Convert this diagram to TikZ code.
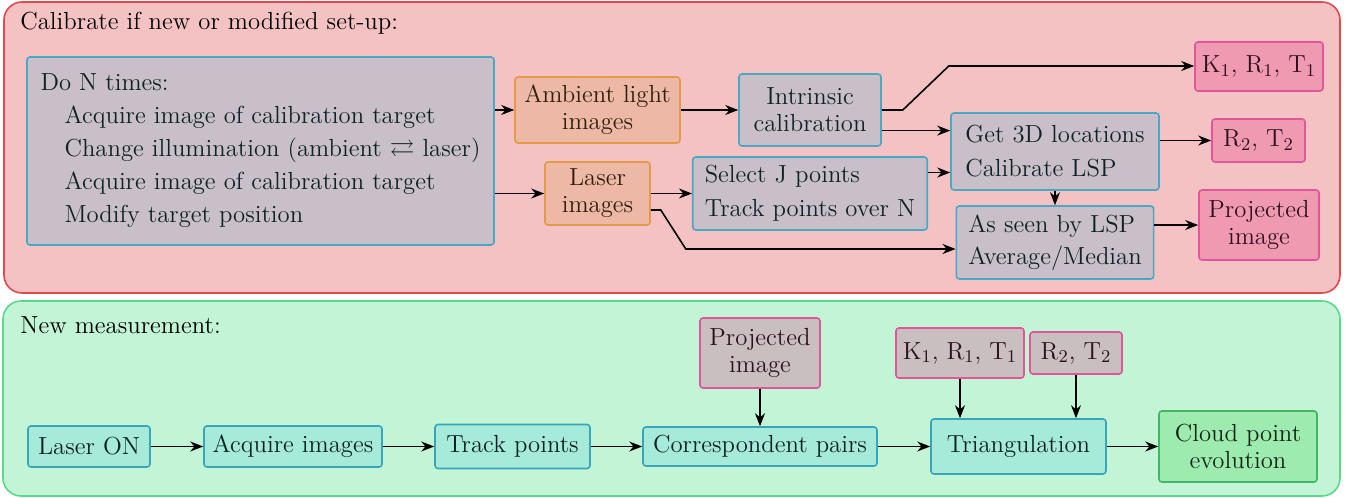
\documentclass[tikz,border=0pt]{standalone}
\usepackage{amsmath}
\usepackage{amssymb}
\usetikzlibrary{calc}
\usetikzlibrary{arrows.meta}

\definecolor{redfill}{HTML}{F4C2C2}
\definecolor{redline}{HTML}{E04A4E}
\definecolor{greenfill}{HTML}{C2F4D6}
\definecolor{greenline}{HTML}{5CD88A}
\definecolor{greyfill}{HTML}{C9BFC8}
\definecolor{greyfillB}{HTML}{C9BEC0}
\definecolor{cyanline}{HTML}{4AA8C4}
\definecolor{orangefill}{HTML}{EEB8A6}
\definecolor{orangeline}{HTML}{E49A48}
\definecolor{pinkfill}{HTML}{F09AB2}
\definecolor{pinkline}{HTML}{E2559A}
\definecolor{tealfill}{HTML}{A6EAD9}
\definecolor{tealline}{HTML}{3AA5BA}
\definecolor{cloudfill}{HTML}{9EEBB0}
\definecolor{cloudline}{HTML}{44B565}

\begin{document}
\begin{tikzpicture}[>={Stealth[length=6.5pt,width=5pt]},x=0.5pt,y=-0.5pt,font=\fontsize{12.35}{13.5}\selectfont,
    box/.style={draw,line width=0.8pt,rounded corners=1.5pt,inner ysep=0pt,inner xsep=2pt,align=center},
    calbox/.style={box,fill=greyfill,draw=cyanline,text=cyanline!20!black},
    imgbox/.style={box,fill=orangefill,draw=orangeline,text=orangeline!20!black},
    resbox/.style={box,fill=pinkfill,draw=pinkline,text=pinkline!20!black},
    inbox/.style={box,fill=greyfillB,draw=pinkline,text=pinkline!20!black},
    measbox/.style={box,fill=tealfill,draw=tealline,text=tealline!20!black},
    endbox/.style={box,fill=cloudfill,draw=cloudline,text=cloudline!20!black},
    flow/.style={->,line width=0.8pt}]
    \useasboundingbox (0,0) rectangle (1357,498);
    % the two stages
    \draw[fill=redfill,draw=redline,line width=0.8pt,rounded corners=9pt] (4,2) rectangle (1340,293);
    \draw[fill=greenfill,draw=greenline,line width=0.8pt,rounded corners=9pt] (3,301) rectangle (1340,496);
    \node[anchor=west,inner sep=0pt] (caltitle) at (20,23) {Calibrate if new or modified set-up:};
    \node[anchor=west,inner sep=0pt] (meastitle) at (20,325) {New measurement:};
    % calibration
    \node[calbox,align=left,inner xsep=6.5pt,minimum width=233.5pt,minimum height=94pt] (doN) at (260.5,151)
        {Do N times:\\[3pt]
         \hspace*{12pt}Acquire image of calibration target\\[3pt]
         \hspace*{12pt}Change illumination (ambient $\rightleftarrows$ laser)\\[3pt]
         \hspace*{12pt}Acquire image of calibration target\\[3pt]
         \hspace*{12pt}Modify target position};
    \node[imgbox,minimum width=82.5pt,minimum height=33pt] (ambient) at (597.5,110) {Ambient light\\images};
    \node[imgbox,minimum width=52.5pt,minimum height=31.5pt] (laser) at (597.5,193.5) {Laser\\images};
    \node[calbox,minimum width=71pt,minimum height=36pt] (intrinsic) at (810,110) {Intrinsic\\calibration};
    \node[calbox,align=left,inner xsep=6pt,minimum width=117pt,minimum height=36.5pt] (select) at (810,193.5)
        {Select J points\\[3.5pt]Track points over N};
    \node[calbox,align=left,inner xsep=7pt,minimum width=104pt,minimum height=38.5pt] (locate) at (1055,151.5)
        {Get 3D locations\\[3.5pt]Calibrate LSP};
    \node[calbox,align=left,inner xsep=6pt,minimum width=98pt,minimum height=36.5pt] (seen) at (1055,242.5)
        {As seen by LSP\\[2.5pt]Average/Median};
    \node[resbox,minimum width=64pt,minimum height=24.5pt] (krtA) at (1259,66.5) {K$_1$, R$_1$, T$_1$};
    \node[resbox,minimum width=46.5pt,minimum height=21.5pt] (rtA) at (1258.5,140.5) {R$_2$, T$_2$};
    \node[resbox,minimum width=60pt,minimum height=35pt] (projA) at (1259,225) {Projected\\image};
    \draw[flow] (ambient.west -| doN.east) -- (ambient.west);
    \draw[flow] (laser.west -| doN.east) -- (laser.west);
    \draw[flow] (ambient) -- (intrinsic);
    \draw[flow] (laser) -- (select);
    \draw[flow] (intrinsic.east) -- ++(21,0) -- ++(46,-44) coordinate (kink) -- (kink -| krtA.west);
    \draw[flow] ([yshift=-10.3pt]intrinsic.east) -- ([yshift=-10.3pt]intrinsic.east -| locate.west);
    \draw[flow] ([yshift=10.5pt]select.east) -- ([yshift=10.5pt]select.east -| locate.west);
    \draw[flow] ([yshift=-8.25pt]laser.east) -- ++(10,0) -- ++(25,39) coordinate (bend) -- (bend -| seen.west);
    \draw[flow] (locate) -- (seen);
    \draw[flow] (rtA.west -| locate.east) -- (rtA.west);
    \draw[flow] (projA.west -| seen.east) -- (projA.west);
    % measurement
    \node[measbox,minimum width=61pt,minimum height=20.5pt] (laseron) at (89,446.5) {Laser ON};
    \node[measbox,minimum width=89pt,minimum height=20.5pt] (acquire) at (293,446.5) {Acquire images};
    \node[measbox,minimum width=77.5pt,minimum height=22pt] (track) at (512.5,446.5) {Track points};
    \node[measbox,minimum width=117pt,minimum height=19.5pt] (pairs) at (760,446.5) {Correspondent pairs};
    \node[measbox,minimum width=87.5pt,minimum height=27.5pt] (triang) at (1018.5,446.5) {Triangulation};
    \node[endbox,minimum width=79pt,minimum height=35.5pt] (cloud) at (1238,446.5) {Cloud point\\evolution};
    \node[inbox,minimum width=60pt,minimum height=35pt] (projB) at (760,353) {Projected\\image};
    \node[inbox,minimum width=64pt,minimum height=25pt] (krtB) at (960,353) {K$_1$, R$_1$, T$_1$};
    \node[inbox,minimum width=46pt,minimum height=21pt] (rtB) at (1076,353) {R$_2$, T$_2$};
    \draw[flow] (laseron) -- (acquire);
    \draw[flow] (acquire) -- (track);
    \draw[flow] (track) -- (pairs);
    \draw[flow] (pairs) -- (triang);
    \draw[flow] (triang) -- (cloud);
    \draw[flow] (projB) -- (pairs);
    \draw[flow] (krtB) -- (krtB |- triang.north);
    \draw[flow] (rtB) -- (rtB |- triang.north);
\end{tikzpicture}
\end{document}
